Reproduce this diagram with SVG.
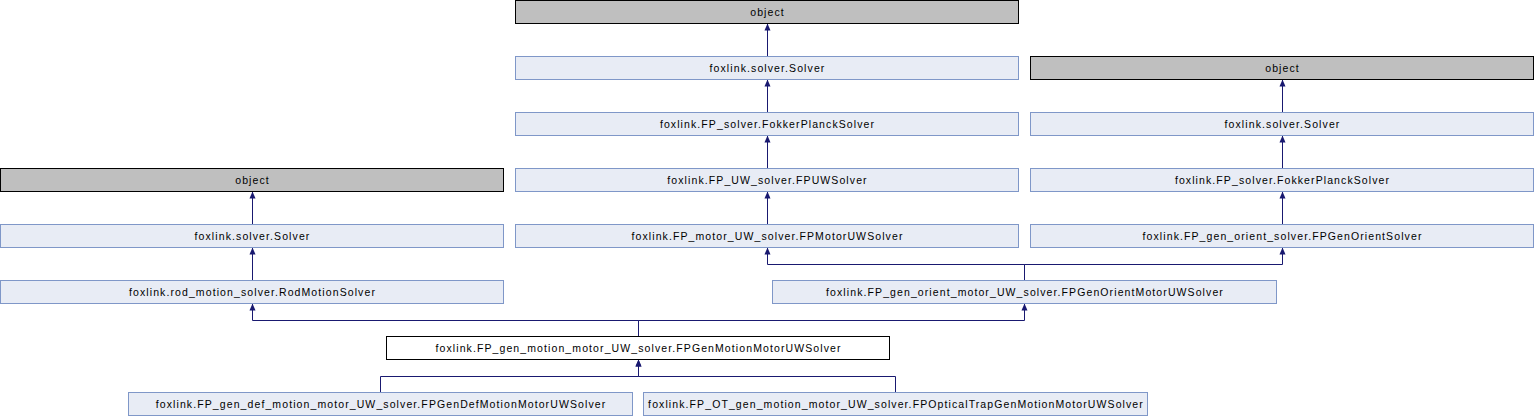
<svg xmlns="http://www.w3.org/2000/svg" width="1535" height="416" viewBox="0 0 1535 416">
<defs>
<style>
.n rect{fill:#e8ecf5;stroke:#7f97c8;stroke-width:1}
.o rect{fill:#bfbfbf;stroke:#000000;stroke-width:1}
.c rect{fill:#ffffff;stroke:#000000;stroke-width:1}
text{font-family:"Liberation Sans",Arial,sans-serif;font-size:10.5px;letter-spacing:1.1px;fill:#000000;text-anchor:middle}
.e path{fill:none;stroke:#191970;stroke-width:1;marker-end:url(#ah)}
</style>
<marker id="ah" markerUnits="userSpaceOnUse" markerWidth="7" markerHeight="7" viewBox="0 0 7 7" refX="7" refY="3.5" orient="auto">
<path d="M0,0.5 L7,3.5 L0,6.5 z" fill="#191970" stroke="none"/>
</marker>
</defs>
<rect width="1535" height="416" fill="#ffffff"/>
<g id="connectors" class="e">
<path d="M767.5,56.5 V23.5"/>
<path d="M767.5,112.5 V79.5"/>
<path d="M767.5,168.5 V135.5"/>
<path d="M767.5,224.5 V191.5"/>
<path d="M1282.5,112.5 V79.5"/>
<path d="M1282.5,168.5 V135.5"/>
<path d="M1282.5,224.5 V191.5"/>
<path d="M252.5,224.5 V191.5"/>
<path d="M252.5,280.5 V247.5"/>
<path d="M1024.5,280.5 V264.5 H767.5 V247.5"/>
<path d="M1024.5,280.5 V264.5 H1282.5 V247.5"/>
<path d="M638.5,336.5 V320.5 H252.5 V303.5"/>
<path d="M638.5,336.5 V320.5 H1024.5 V303.5"/>
<path d="M380.5,392.5 V376.5 H638.5 V359.5"/>
<path d="M895.5,392.5 V376.5 H638.5 V359.5"/>
</g>
<g id="object_c" class="o"><rect x="515.5" y="0.5" width="503" height="23"/><text x="767.5" y="15.5">object</text></g>
<g id="solver_c" class="n"><rect x="515.5" y="56.5" width="503" height="23"/><text x="767.5" y="71.5">foxlink.solver.Solver</text></g>
<g id="fp_c" class="n"><rect x="515.5" y="112.5" width="503" height="23"/><text x="767.5" y="127.5">foxlink.FP_solver.FokkerPlanckSolver</text></g>
<g id="fpuw" class="n"><rect x="515.5" y="168.5" width="503" height="23"/><text x="767.5" y="183.5">foxlink.FP_UW_solver.FPUWSolver</text></g>
<g id="fpmotor" class="n"><rect x="515.5" y="224.5" width="503" height="23"/><text x="767.5" y="239.5">foxlink.FP_motor_UW_solver.FPMotorUWSolver</text></g>
<g id="object_r" class="o"><rect x="1030.5" y="56.5" width="503" height="23"/><text x="1282.5" y="71.5">object</text></g>
<g id="solver_r" class="n"><rect x="1030.5" y="112.5" width="503" height="23"/><text x="1282.5" y="127.5">foxlink.solver.Solver</text></g>
<g id="fp_r" class="n"><rect x="1030.5" y="168.5" width="503" height="23"/><text x="1282.5" y="183.5">foxlink.FP_solver.FokkerPlanckSolver</text></g>
<g id="genorient" class="n"><rect x="1030.5" y="224.5" width="503" height="23"/><text x="1282.5" y="239.5">foxlink.FP_gen_orient_solver.FPGenOrientSolver</text></g>
<g id="object_l" class="o"><rect x="0.5" y="168.5" width="503" height="23"/><text x="252.5" y="183.5">object</text></g>
<g id="solver_l" class="n"><rect x="0.5" y="224.5" width="503" height="23"/><text x="252.5" y="239.5">foxlink.solver.Solver</text></g>
<g id="rodmotion" class="n"><rect x="0.5" y="280.5" width="503" height="23"/><text x="252.5" y="295.5">foxlink.rod_motion_solver.RodMotionSolver</text></g>
<g id="genorientmotor" class="n"><rect x="772.5" y="280.5" width="504" height="23"/><text x="1025" y="295.5">foxlink.FP_gen_orient_motor_UW_solver.FPGenOrientMotorUWSolver</text></g>
<g id="genmotion" class="c"><rect x="386.5" y="336.5" width="503" height="23"/><text x="638.5" y="351.5">foxlink.FP_gen_motion_motor_UW_solver.FPGenMotionMotorUWSolver</text></g>
<g id="gendef" class="n"><rect x="128.5" y="392.5" width="504" height="23"/><text x="381" y="407.5">foxlink.FP_gen_def_motion_motor_UW_solver.FPGenDefMotionMotorUWSolver</text></g>
<g id="ot" class="n"><rect x="643.5" y="392.5" width="504" height="23"/><text x="896" y="407.5">foxlink.FP_OT_gen_motion_motor_UW_solver.FPOpticalTrapGenMotionMotorUWSolver</text></g>
</svg>
